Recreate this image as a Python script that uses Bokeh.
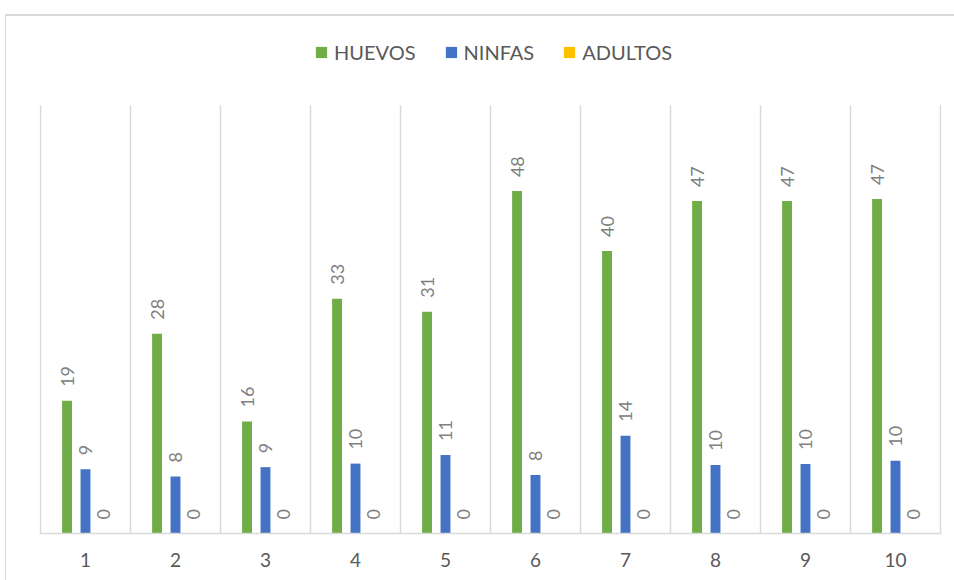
import math
from bokeh.plotting import figure
from bokeh.models import (ColumnDataSource, Range1d, FixedTicker, Legend, LegendItem)
from bokeh.core.properties import value
from bokeh.embed import file_html
from bokeh.resources import INLINE

# ---- data ----
categories = [1, 2, 3, 4, 5, 6, 7, 8, 9, 10]
tick_labels = ["1", "2", "3", "4", "5", "6", "7", "8", "9", "10"]
huevos = [18.6, 28.0, 15.7, 32.9, 31.1, 48.0, 39.6, 46.6, 46.6, 46.9]
ninfas = [9.0, 8.0, 9.3, 9.8, 11.0, 8.2, 13.7, 9.6, 9.75, 10.2]
adultos = [0, 0, 0, 0, 0, 0, 0, 0, 0, 0]
series_names = ["HUEVOS", "NINFAS", "ADULTOS"]
series_colors = ["#70AD47", "#4472C4", "#FFC000"]
axis_max = 60

FONT = "Lato"

W, H = 949, 566
MB_L, MB_R, MB_T, MB_B = 33, 14, 2, 49
frame_h = H - MB_T - MB_B
plot_h = 428  # pixel height of the 0..axis_max region
y_top = axis_max * frame_h / plot_h
pad = 1 / 90

p = figure(width=W, height=H, output_backend="svg", toolbar_location=None,
           x_range=Range1d(categories[0] - 0.5 - pad, categories[-1] + 0.5 + pad),
           y_range=Range1d(0, y_top),
           min_border_left=MB_L, min_border_right=MB_R, min_border_top=MB_T,
           min_border_bottom=MB_B)
p.margin = (14, 0, 0, 5)
p.styles = {"border-left": "1px solid #d9d9d9", "border-top": "2px solid #d9d9d9"}
p.outline_line_color = None
p.background_fill_color = "white"
p.border_fill_color = "white"

p.xgrid.grid_line_color = None
p.ygrid.grid_line_color = None

# vertical separators between categories (0 .. axis_max)
bounds = [c - 0.5 for c in categories] + [categories[-1] + 0.5]
p.segment(x0=bounds, y0=[0] * len(bounds), x1=bounds, y1=[axis_max] * len(bounds),
          line_color="#d9d9d9", line_width=1.5)

p.yaxis.visible = False
ax = p.xaxis[0]
ax.ticker = FixedTicker(ticks=categories)
ax.major_label_overrides = {c: t for c, t in zip(categories, tick_labels)}
ax.axis_line_color = "#d9d9d9"
ax.axis_line_width = 1.5
ax.major_tick_line_color = None
ax.minor_tick_line_color = None
ax.major_label_text_font = FONT
ax.major_label_text_font_size = "19px"
ax.major_label_text_color = "#595959"
ax.major_label_standoff = 13

offsets = [-0.205, 0.0, 0.205]
bar_w = 0.11
renderers = []
for vals, name, color, off in zip([huevos, ninfas, adultos], series_names, series_colors, offsets):
    src = ColumnDataSource(dict(
        x=[c + off for c in categories],
        top=vals,
        lab=[str(int(round(v))) for v in vals],
    ))
    r = p.vbar(x="x", top="top", width=bar_w, bottom=0, source=src,
               fill_color=color, line_color=None)
    renderers.append(r)
    p.text(x="x", y="top", text="lab", source=src, angle=math.pi / 2,
           text_align="left", text_baseline="middle", y_offset=-14,
           text_font=value(FONT), text_font_size="18px", text_color="#808080")

legend = Legend(items=[LegendItem(label=n, renderers=[r]) for n, r in zip(series_names, renderers)],
                orientation="horizontal", location=(275, 469))
legend.label_text_font = FONT
legend.label_text_font_size = "20px"
legend.label_text_color = "#595959"
legend.glyph_width = 14
legend.glyph_height = 14
legend.label_standoff = 6
legend.spacing = 28
legend.padding = 0
legend.margin = 0
legend.border_line_color = None
legend.background_fill_alpha = 0
p.add_layout(legend, "center")

open("out.html", "w").write(file_html(p, INLINE))
